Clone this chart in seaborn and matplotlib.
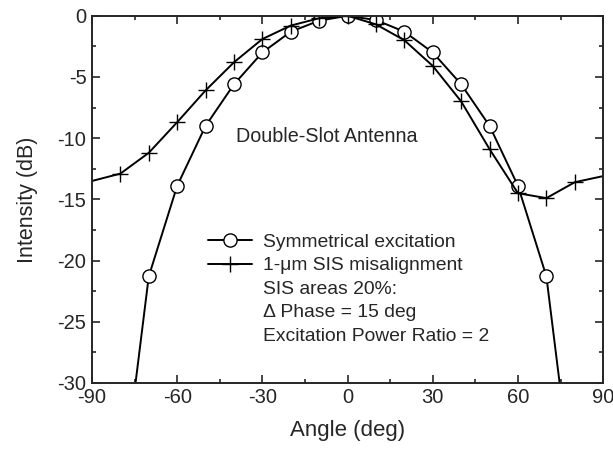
import numpy as np
import pandas as pd
import matplotlib
matplotlib.use("Agg")
import matplotlib.pyplot as plt
import seaborn as sns
from matplotlib.lines import Line2D
from matplotlib.ticker import MultipleLocator

# symmetrical excitation (line runs past the axis bottom at +/-80)
angle_sym = [-80, -70, -60, -50, -40, -30, -20, -10, 0, 10, 20, 30, 40, 50, 60, 70, 80]
int_sym = [-40, -21.3, -13.9, -9.0, -5.6, -3.0, -1.3, -0.4, 0.0,
           -0.35, -1.3, -3.0, -5.6, -9.0, -13.9, -21.3, -40]

# 1-um SIS misalignment
angle_mis = [-90, -80, -70, -60, -50, -40, -30, -20, -10, 0, 10, 20, 30, 40, 50, 60, 70, 80, 90]
int_mis = [-13.5, -12.9, -11.2, -8.7, -6.1, -3.8, -1.9, -0.8, -0.2, 0.0,
           -0.7, -2.0, -4.1, -7.0, -10.9, -14.5, -14.9, -13.6, -13.1]

labels = ["Symmetrical excitation", "1-\u03bcm SIS misalignment"]
notes = ["SIS areas 20%:", "\u0394 Phase = 15 deg", "Excitation Power Ratio = 2"]

sns.set_style("ticks")
plt.rcParams['font.family'] = ['Liberation Sans', 'DejaVu Sans']
plt.rcParams['axes.unicode_minus'] = False

fig = plt.figure(figsize=(6.13, 4.51), dpi=100)
ax = fig.add_axes([0.150, 0.151, 0.834, 0.814])

df_sym = pd.DataFrame({'angle': angle_sym, 'intensity': int_sym})
df_mis = pd.DataFrame({'angle': angle_mis, 'intensity': int_mis})

sns.lineplot(data=df_sym, x='angle', y='intensity', ax=ax, color='black', lw=1.4,
             marker='o', markersize=9.5, markerfacecolor='white', markeredgecolor='black',
             markeredgewidth=1.0, markevery=slice(1, -1), label=labels[0])
sns.lineplot(data=df_mis, x='angle', y='intensity', ax=ax, color='black', lw=1.4,
             marker='+', markersize=12, markeredgewidth=1.0, markeredgecolor='black',
             markevery=slice(1, -1), label=labels[1])

ax.set_xlim(-90, 90)
ax.set_ylim(-30, 0)
ax.xaxis.set_major_locator(MultipleLocator(30))
ax.xaxis.set_minor_locator(MultipleLocator(15))
ax.yaxis.set_major_locator(MultipleLocator(5))
ax.yaxis.set_minor_locator(MultipleLocator(2.5))
ax.tick_params(which='both', direction='in', top=True, right=True, labelsize=14.5, width=1.2)
ax.tick_params(which='major', length=6)
ax.tick_params(which='minor', length=3)
ax.tick_params(axis='x', pad=4)
ax.tick_params(axis='y', pad=4)
for s in ax.spines.values():
    s.set_linewidth(1.4)

ax.set_xlabel("Angle (deg)", fontsize=16, labelpad=9)
ax.set_ylabel("Intensity (dB)", fontsize=15.5, labelpad=14)

ax.text(-39.3, -9.9, "Double-Slot Antenna", fontsize=14.2, va='center', ha='left')

handles, lbls = ax.get_legend_handles_labels()
for n in notes:
    handles.append(Line2D([], [], linestyle='none', marker=None))
    lbls.append(n)
ax.legend(handles, lbls, loc='upper left', bbox_to_anchor=(0.227, 0.407), frameon=False,
          fontsize=13.9, handlelength=2.3, handletextpad=0.57, labelspacing=0.31,
          borderpad=0, borderaxespad=0)

fig.savefig("out.png", dpi=100)
